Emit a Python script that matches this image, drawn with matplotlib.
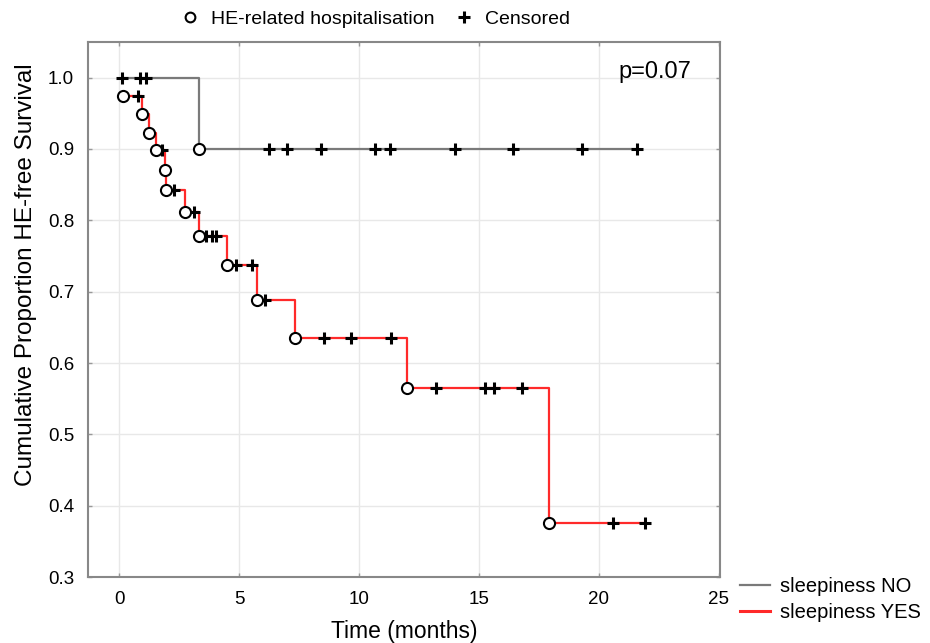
import matplotlib
matplotlib.use("Agg")
import matplotlib.pyplot as plt
from matplotlib.lines import Line2D
import numpy as np

plt.rcParams['font.family'] = ['Liberation Sans', 'DejaVu Sans']

# ---- data ----
# sleepiness NO
no_event_t = [3.33]
no_event_s = [0.90]
no_cens_t = [0.11, 0.85, 1.13, 6.25, 6.99, 8.42, 10.67, 11.29, 14.0, 16.4, 19.28, 21.6]
no_cens_s = [1.0, 1.0, 1.0, 0.90, 0.90, 0.90, 0.90, 0.90, 0.90, 0.90, 0.90, 0.90]
no_start = (0.11, 1.0)

# sleepiness YES
yes_event_t = [0.15, 0.95, 1.25, 1.55, 1.9, 1.95, 2.75, 3.33, 4.5, 5.75, 7.33, 12.0, 17.9]
yes_event_s = [0.974, 0.949, 0.923, 0.898, 0.870, 0.842, 0.811, 0.778, 0.737, 0.689, 0.635, 0.565, 0.376]
yes_cens_t = [0.8, 1.8, 2.3, 3.14, 3.6, 3.85, 4.05, 4.86, 5.53, 6.1, 8.54, 9.67, 11.32,
              13.2, 15.27, 15.62, 16.78, 20.57, 21.92]
yes_cens_s = [0.974, 0.898, 0.842, 0.811, 0.778, 0.778, 0.778, 0.737, 0.737, 0.689, 0.635, 0.635, 0.635,
              0.565, 0.565, 0.565, 0.565, 0.376, 0.376]

x_ticks = [0, 5, 10, 15, 20, 25]
y_ticks = [0.3, 0.4, 0.5, 0.6, 0.7, 0.8, 0.9, 1.0]

GREY = '#7a7a7a'
RED = '#ff2a2a'


def step_path(start, ev_t, ev_s, cens_t, cens_s):
    pts = [start] + list(zip(ev_t, ev_s)) + list(zip(cens_t, cens_s))
    pts.sort(key=lambda p: (p[0], -p[1]))
    xs = [p[0] for p in pts]
    ys = [p[1] for p in pts]
    return xs, ys


fig = plt.figure(figsize=(9.3, 6.43), dpi=100)
ax = fig.add_axes([88 / 930, 1 - 577 / 643, (720 - 88) / 930, (577 - 42) / 643])

# grey curve
xs, ys = step_path(no_start, no_event_t, no_event_s, no_cens_t, no_cens_s)
ax.step(xs, ys, where='post', color=GREY, lw=1.6, zorder=2)
# red curve
xs, ys = step_path((yes_event_t[0], yes_event_s[0]), yes_event_t[1:], yes_event_s[1:], yes_cens_t, yes_cens_s)
ax.step(xs, ys, where='post', color=RED, lw=1.6, zorder=2)

for ct, cs in [(no_cens_t, no_cens_s), (yes_cens_t, yes_cens_s)]:
    ax.plot(ct, cs, ls='none', marker='+', ms=9, mew=2.2, color='black', zorder=3)
for et, es in [(no_event_t, no_event_s), (yes_event_t, yes_event_s)]:
    ax.plot(et, es, ls='none', marker='o', ms=8, mew=1.5, mfc='white', mec='black', zorder=4)

ax.set_xlim(-1.3, 25.05)
ax.set_ylim(0.3, 1.05)
ax.set_xticks(x_ticks)
ax.set_yticks(y_ticks)
ax.set_yticklabels([f"{v:.1f}" for v in y_ticks])
ax.grid(True, color='#e8e8e8', lw=1)
ax.set_axisbelow(True)
ax.tick_params(direction='in', length=3, width=1, color='#999999', labelsize=13.5,
               top=True, right=True, pad=10)
for sp in ax.spines.values():
    sp.set_color('#888888')
    sp.set_linewidth(1.5)

ax.set_xlabel('Time (months)', fontsize=16.5, labelpad=9)
ax.set_ylabel('Cumulative Proportion HE-free Survival', fontsize=17.5)
ax.yaxis.set_label_coords(-0.08, 0.566)
ax.text(0.955, 0.965, 'p=0.07', transform=ax.transAxes, ha='right', va='top', fontsize=17)

# top legend
h1 = Line2D([], [], ls='none', marker='o', ms=7, mew=1.5, mfc='white', mec='black')
h2 = Line2D([], [], ls='none', marker='+', ms=9, mew=2.2, color='black')
fig.legend([h1, h2], ['HE-related hospitalisation', 'Censored'], ncol=2, frameon=False,
           loc='center', bbox_to_anchor=(375 / 930, 1 - 19 / 643), fontsize=14,
           handlelength=1.0, handletextpad=0.6, columnspacing=1.0)

# bottom legend
g1 = Line2D([], [], color=GREY, lw=1.6)
g2 = Line2D([], [], color=RED, lw=2.2)
fig.legend([g1, g2], ['sleepiness NO', 'sleepiness YES'], frameon=False,
           loc='upper left', bbox_to_anchor=(732 / 930, 1 - 569 / 643), fontsize=14.5,
           handlelength=1.5, handletextpad=0.5, labelspacing=0.35, borderaxespad=0)

fig.savefig('out.png', dpi=100)
